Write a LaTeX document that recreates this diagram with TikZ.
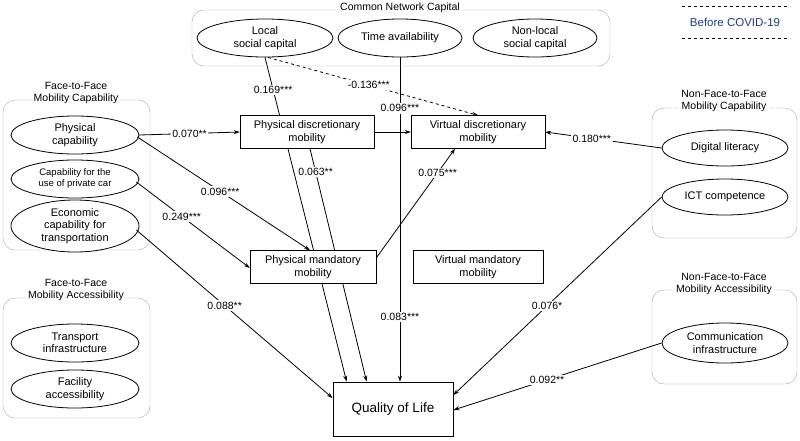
\documentclass[tikz,border=0pt]{standalone}
\usepackage{fontspec}
\setmainfont{Liberation Sans}
\usetikzlibrary{shapes.geometric,arrows.meta,backgrounds,calc}
\definecolor{covid}{RGB}{30,60,130}
\begin{document}
\begin{tikzpicture}[x=1pt,y=-1pt,
  ell/.style={ellipse,draw,thick,fill=white,minimum width=#1,minimum height=38,inner sep=0pt,align=center,font=\fontsize{11}{12.5}\selectfont},
  ell/.default=128,
  box/.style={draw,fill=white,minimum width=134,minimum height=33,inner sep=1pt,align=center,font=\fontsize{11}{12.5}\selectfont},
  grp/.style={draw=gray!70,rounded corners=12pt},
  gtitle/.style={fill=white,align=center,inner sep=2pt,font=\fontsize{10.5}{12.5}\selectfont},
  lbl/.style={fill=white,inner sep=1.5pt,font=\fontsize{10.5}{11}\selectfont},
  arr/.style={thick,-{Stealth[length=6pt,width=4pt]}},
  ln/.style={thick}]
\useasboundingbox (0,0) rectangle (800,440);
% groups
\draw[grp] (192,10) rectangle (610,66);
\node[gtitle] (tcnc) at (400,8) {Common Network Capital};
\draw[grp] (3,100) rectangle (150,250);
\node[gtitle] (tf2fc) at (76,93) {Face-to-Face\\Mobility Capability};
\draw[grp] (3,298) rectangle (150,418);
\node[gtitle] (tf2fa) at (76,290) {Face-to-Face\\Mobility Accessibility};
\draw[grp] (652,108) rectangle (797,238);
\node[gtitle] (tnfc) at (724,101) {Non-Face-to-Face\\Mobility Capability};
\draw[grp] (652,290) rectangle (797,384);
\node[gtitle] (tnfa) at (724,284) {Non-Face-to-Face\\Mobility Accessibility};
% before covid
\node[text=covid,font=\fontsize{11.5}{13}\selectfont] (bc) at (735,22) {Before COVID-19};
\draw[dashed,thin] (682,6) -- (790,6);
\draw[dashed,thin] (682,38) -- (790,38);
% ellipses
\node[ell=136] (lsc) at (265,38) {Local\\social capital};
\node[ell=124] (ta) at (400,38) {Time availability};
\node[ell=124] (nlsc) at (535,38) {Non-local\\social capital};
\node[ell] (pc) at (75,135) {Physical\\capability};
\node[ell,font=\fontsize{9.5}{11}\selectfont] (car) at (75,179) {Capability for the\\use of private car};
\node[ell,minimum height=52] (econ) at (75,226) {Economic\\capability for\\transportation};
\node[ell] (ti) at (75,343) {Transport\\infrastructure};
\node[ell] (fa) at (75,389) {Facility\\accessibility};
\node[ell=126,minimum height=36] (dl) at (725,148) {Digital literacy};
\node[ell=126,minimum height=36] (ict) at (725,197) {ICT competence};
\node[ell=126,minimum height=40] (ci) at (725,343) {Communication\\infrastructure};
% boxes
\node[box] (pdm) at (307,132) {Physical discretionary\\mobility};
\node[box] (vdm) at (478,132) {Virtual discretionary\\mobility};
\node[box,minimum width=126] (pmm) at (313,267) {Physical mandatory\\mobility};
\node[box,minimum width=130] (vmm) at (478,267) {Virtual mandatory\\mobility};
\node[draw,thick,fill=white,minimum width=120,minimum height=54,font=\fontsize{13.5}{15}\selectfont] (qol) at (393,409) {Quality of Life};
% edges behind boxes
\begin{scope}[on background layer]
\draw[arr] (lsc.south) -- ($(qol.north west)+(14,0)$) node[lbl,pos=0.1] {0.169***};
\draw[arr] ($(pdm.south)+(3,0)$) -- ($(qol.north west)+(34,0)$) node[lbl,pos=0.1] {0.063**};
\draw[arr] (ta.south) -- (ta.south |- qol.north) node[lbl,pos=0.157] {0.096***} node[lbl,pos=0.8] {0.083***};
\draw[arr,dashed] ($(lsc.south)+(3,0)$) -- (vdm.north) node[lbl,pos=0.48] {-0.136***};
\end{scope}
\draw[arr] (pc.east) -- (pdm.west) node[lbl,pos=0.5] {0.070**};
\draw[arr] ($(pc.east)+(-2,2)$) -- (pmm.north -| 310,0) node[lbl,pos=0.48] {0.096***};
\draw[arr] ($(car.east)+(-3,3)$) -- ($(pmm.west)+(0,1)$) node[lbl,pos=0.4] {0.249***};
\draw[arr] ($(econ.east)+(-3,4)$) -- ($(qol.west)+(0,-11)$) node[lbl,pos=0.45] {0.088**};
\draw[arr] (pdm.east) -- (vdm.west);
\draw[arr] ($(pmm.east)+(0,-9)$) -- ($(vdm.south)+(-23,0)$) node[lbl,pos=0.78] {0.075***};
\draw[arr] (dl.west) -- (vdm.east) node[lbl,pos=0.6] {0.180***};
\draw[arr] (ict.west) -- ($(qol.east)+(0,-14)$) node[lbl,pos=0.55] {0.076*};
\draw[arr] (ci.west) -- ($(qol.east)+(0,1)$) node[lbl,pos=0.55] {0.092**};
\end{tikzpicture}
\end{document}
